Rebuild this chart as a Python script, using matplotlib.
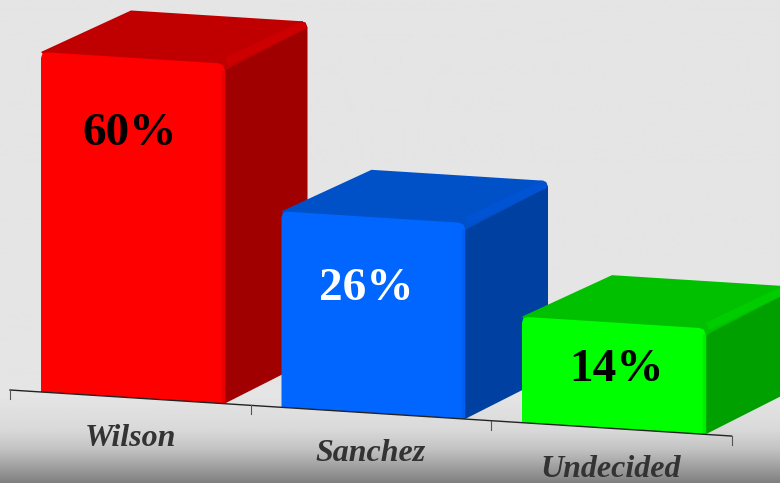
import numpy as np
import matplotlib
matplotlib.use('Agg')
import matplotlib.pyplot as plt
from matplotlib.patches import Polygon

names = ['Wilson', 'Sanchez', 'Undecided']
percent = [60, 26, 14]
# drawn bar heights (not proportional to the percentages)
bar_heights = [340, 196, 106]

front_colors = ['#ff0000', '#0066ff', '#00ff00']
top_colors = ['#c00000', '#0050c8', '#00c000']
side_colors = ['#a00000', '#0040a0', '#00a000']
bevel_colors = ['#cc0000', '#0054d4', '#00cc00']
edge_colors = ['#ea0000', '#005ff0', '#00ea00']
value_colors = ['#000000', '#ffffff', '#000000']

# oblique projection of the 3d scene on to the picture
ORIGIN = (10.0, 390.0)
STEP = 240.5
SLOPE = 0.0638
BAR_W = 183.5
PAD = 31.0
DEPTH_L = (90.0, -41.5)
DEPTH_R = (83.0, -42.0)
VALUE_DX = [-3, -7, 3]
VALUE_DY = [82, 78, 53]
FONT = 'Liberation Serif'


def base(x):
    return ORIGIN[0] + x, ORIGIN[1] + x * SLOPE


def draw_bar(ax, i, height):
    z = 3 + i
    x0, y0 = base(STEP * i + PAD)
    x1, y1 = base(STEP * i + PAD + BAR_W)
    t0, t1 = y0 - height, y1 - height
    blx, bly = x0 + DEPTH_L[0], t0 + DEPTH_L[1]
    brx, bry = x1 + DEPTH_R[0], t1 + DEPTH_R[1]

    # rounded back corner shared by the top and the side
    corner = [(brx - 7, bry - 0.5), (brx - 2, bry + 1), (brx, bry + 6)]
    side = [(x1, t1)] + corner + [(brx, y1 + DEPTH_R[1]), (x1, y1)]
    top = [(x0, t0), (blx, bly)] + corner + [(x1, t1 + 7), (x0 + 7, t0 + 7)]
    ax.add_patch(Polygon(side, fc=side_colors[i], ec='none', zorder=z))
    ax.add_patch(Polygon(top, fc=top_colors[i], ec='none', zorder=z))
    # lighter band on the edge between top and side
    ax.plot([x1 + 2, brx - 3], [t1 - 2, bry + 3], color=bevel_colors[i],
            lw=6, solid_capstyle='butt', zorder=z)

    front = [(x0, y0), (x0, t0 + 6), (x0 + 1.5, t0 + 1.5), (x0 + 6, t0 + 0.4),
             (x1 - 6, t1 - 0.4), (x1 - 1.5, t1 + 1.5), (x1, t1 + 6), (x1, y1)]
    ax.add_patch(Polygon(front, fc=front_colors[i], ec='none', zorder=z))
    # faint bevel down the right of the front face
    ax.plot([x1 - 2, x1 - 2], [t1 + 6, y1 - 1], color=edge_colors[i], lw=2.5,
            solid_capstyle='butt', zorder=z)

    ax.text((x0 + x1) / 2 + VALUE_DX[i], t0 + VALUE_DY[i], '%d%%' % percent[i],
            color=value_colors[i], fontsize=34, fontweight='bold', family=FONT,
            ha='center', va='center', zorder=8)


def main():
    fig = plt.figure(figsize=(7.8, 4.83), dpi=100)
    ax = fig.add_axes([0, 0, 1, 1])
    ax.set_xlim(0, 780)
    ax.set_ylim(483, 0)
    ax.axis('off')

    # background, flat grey fading darker at the very bottom
    rows = np.linspace(0, 483, 484)
    shade = np.interp(rows, [0, 395, 430, 450, 483], [0.898, 0.898, 0.85, 0.76, 0.50])
    ax.imshow(shade[:, None], cmap='gray', vmin=0, vmax=1, extent=(0, 780, 483, 0),
              aspect='auto', zorder=0)

    for i, h in enumerate(bar_heights):
        draw_bar(ax, i, h)

    # floor axis with tick marks between the categories
    xs = STEP * np.arange(len(names) + 1)
    ax_x, ax_y = base(xs)
    ax.plot(ax_x, ax_y, color='#222222', lw=1, zorder=9)
    for a, b in zip(ax_x, ax_y):
        ax.plot([a, a], [b, b + 9], color='#555555', lw=0.8, zorder=9)

    for i, name in enumerate(names):
        x, y = base(STEP * i + 120)
        ax.text(x, y + 41, name, color='#333333', fontsize=23, fontweight='bold', style='italic',
                family=FONT, ha='center', va='center', zorder=9)

    fig.savefig('out.png', dpi=100)
    plt.close(fig)


if __name__ == '__main__':
    main()
